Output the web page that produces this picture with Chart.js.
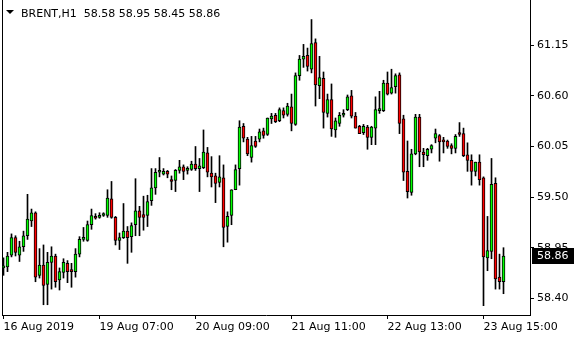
<!DOCTYPE html>
<html><head><meta charset="utf-8">
<script src="https://cdn.jsdelivr.net/npm/chart.js@4.4.1/dist/chart.umd.min.js"></script>
<style>html,body{margin:0;padding:0;background:#fff;}canvas{display:block;}</style>
</head><body>
<canvas id="c" width="580" height="340"></canvas>
<script>
const symbol = "BRENT,H1";
const opens = [
58.73,58.74,58.87,59.06,58.87,58.96,59.08,59.24,59.33,58.65,
58.76,58.55,58.79,58.86,58.60,58.68,58.78,58.70,58.69,58.88,
59.04,59.03,59.20,59.29,59.28,59.30,59.30,59.48,59.28,59.03,
59.06,59.13,59.07,59.20,59.35,59.31,59.30,59.46,59.60,59.77,
59.75,59.78,59.69,59.68,59.79,59.83,59.79,59.80,59.86,59.81,
59.82,59.98,59.76,59.73,59.66,59.71,59.18,59.30,59.58,59.81,
60.27,60.13,59.93,60.11,60.13,60.22,60.18,60.35,60.39,60.33,
60.44,60.40,60.48,60.29,60.82,61.00,61.04,60.89,61.18,60.71,
60.79,60.41,60.56,60.23,60.30,60.39,60.45,60.60,60.38,60.27,
60.20,60.26,60.15,60.25,60.44,60.44,60.74,60.63,60.70,60.83,
60.35,59.78,59.55,59.97,60.37,59.99,59.95,60.02,60.14,60.17,
60.12,60.11,60.06,60.03,60.20,60.19,59.96,59.90,59.78,59.88,
59.71,58.84,58.91,59.65,58.63,58.58];
const highs = [
58.84,58.90,59.10,59.08,59.02,59.13,59.53,59.37,59.34,58.94,
58.98,58.90,58.96,58.88,58.73,58.83,58.81,58.78,58.94,59.07,
59.17,59.24,59.37,59.32,59.33,59.33,59.58,59.67,59.29,59.11,
59.43,59.18,59.22,59.70,59.40,59.51,59.52,59.81,59.81,59.93,
59.81,59.79,59.73,59.80,59.90,59.85,59.83,59.89,60.05,59.92,
60.23,60.04,59.94,59.76,59.95,59.85,59.34,59.58,59.85,60.33,
60.30,60.15,60.16,60.16,60.24,60.25,60.36,60.41,60.41,60.47,
60.47,60.52,60.62,60.85,61.04,61.16,61.12,61.43,61.22,61.03,
60.86,60.62,60.73,60.36,60.42,60.45,60.61,60.66,60.42,60.28,
60.29,60.28,60.27,60.59,60.65,60.77,60.86,60.89,60.84,60.85,
60.39,60.11,60.02,60.40,60.40,60.03,60.03,60.07,60.24,60.18,
60.15,60.12,60.08,60.18,60.31,60.25,60.09,59.96,59.88,59.96,
59.72,59.29,59.92,59.71,58.88,58.95];
const lows = [
58.65,58.69,58.85,58.86,58.80,58.91,59.04,59.18,58.58,58.62,
58.33,58.33,58.50,58.52,58.49,58.62,58.57,58.52,58.63,58.85,
59.02,59.02,59.15,59.26,59.27,59.29,59.28,59.27,58.98,58.93,
59.05,58.78,58.90,59.08,59.08,59.14,59.18,59.41,59.53,59.72,
59.74,59.71,59.58,59.56,59.76,59.69,59.75,59.79,59.79,59.56,
59.81,59.72,59.61,59.44,59.61,58.96,59.01,59.20,59.58,59.63,
60.10,59.95,59.88,60.04,60.10,60.14,60.17,60.30,60.31,60.32,
60.36,60.38,60.22,60.28,60.77,60.91,60.87,60.85,60.49,60.57,
60.25,60.37,60.16,60.15,60.27,60.37,60.44,60.36,60.25,60.19,
60.18,60.02,60.07,60.07,60.41,60.43,60.61,60.62,60.63,60.19,
59.68,59.49,59.52,59.96,59.83,59.83,59.90,59.98,60.09,59.89,
59.98,60.03,59.97,59.98,60.16,59.94,59.78,59.63,59.73,59.63,
58.32,58.70,58.83,58.50,58.50,58.45];
const closes = [
58.75,58.86,59.06,58.90,58.96,59.08,59.26,59.33,58.63,58.76,
58.54,58.79,58.86,58.58,58.69,58.79,58.69,58.69,58.88,59.04,
59.06,59.20,59.30,59.27,59.30,59.31,59.49,59.28,59.03,59.06,
59.13,59.06,59.19,59.35,59.28,59.28,59.45,59.60,59.77,59.78,
59.78,59.75,59.67,59.79,59.83,59.78,59.80,59.86,59.81,59.84,
59.99,59.77,59.72,59.65,59.72,59.17,59.29,59.58,59.80,60.26,
60.14,59.97,60.06,60.05,60.21,60.17,60.36,60.38,60.32,60.45,
60.39,60.49,60.30,60.82,61.00,61.03,60.92,61.17,60.72,60.80,
60.42,60.56,60.24,60.33,60.39,60.40,60.59,60.38,60.25,60.19,
60.27,60.15,60.26,60.45,60.45,60.74,60.62,60.69,60.82,60.30,
59.77,59.56,59.97,60.37,59.99,59.96,60.02,60.06,60.19,60.10,
60.10,60.05,60.03,60.16,60.18,59.95,59.90,59.78,59.88,59.69,
58.85,58.92,59.64,58.61,58.58,58.86];
const xTickIndex = [0, 24, 48, 72, 96, 120];
const xTickLabels = ["16 Aug 2019","19 Aug 07:00","20 Aug 09:00","21 Aug 11:00","22 Aug 13:00","23 Aug 15:00"];
const yTickValues = [58.40, 58.95, 59.50, 60.05, 60.60, 61.15];

const FONT = '"DejaVu Sans", Tahoma, sans-serif';
const UP = '#00ff00', DOWN = '#ff0000';

const wickData = lows.map((l, i) => ({x: i, y: [l, highs[i]]}));
const bodyData = opens.map((o, i) => ({x: i, y: [Math.min(o, closes[i]), Math.max(o, closes[i])]}));
const bodyColors = opens.map((o, i) => closes[i] >= o ? UP : DOWN);

const headerPlugin = {
  id: 'header',
  afterDraw(chart) {
    const {ctx, chartArea} = chart;
    const n = opens.length - 1;
    const x0 = chartArea.left;
    ctx.save();
    ctx.fillStyle = '#000';
    ctx.beginPath();
    ctx.moveTo(x0 + 4, 10);
    ctx.lineTo(x0 + 12, 10);
    ctx.lineTo(x0 + 8, 14);
    ctx.closePath();
    ctx.fill();
    ctx.font = '11px ' + FONT;
    ctx.textBaseline = 'alphabetic';
    ctx.fillStyle = '#000';
    const txt = symbol + '  ' + [opens[n], highs[n], lows[n], closes[n]].map(v => v.toFixed(2)).join(' ');
    ctx.fillText(txt, x0 + 19, 17);
    ctx.restore();
  }
};
const lastPricePlugin = {
  id: 'lastPrice',
  afterDraw(chart) {
    const {ctx, chartArea, scales} = chart;
    const v = closes[closes.length - 1];
    const y = Math.round(scales.y.getPixelForValue(v));
    ctx.save();
    ctx.fillStyle = '#000';
    ctx.fillRect(chartArea.right + 2, y - 8, 42, 16);
    ctx.fillStyle = '#fff';
    ctx.font = '11px ' + FONT;
    ctx.textBaseline = 'middle';
    ctx.fillText(v.toFixed(2), chartArea.right + 7, y + 0.5);
    ctx.restore();
  }
};

new Chart(document.getElementById('c'), {
  type: 'bar',
  data: {
    datasets: [
      {
        label: 'body', data: bodyData, order: 0, grouped: false, xAxisID: 'x', yAxisID: 'y',
        backgroundColor: bodyColors, borderColor: '#000', borderWidth: 1,
        borderSkipped: false, barThickness: 3, minBarLength: 2
      },
      {
        label: 'wick', data: wickData, order: 1, grouped: false, xAxisID: 'x', yAxisID: 'y',
        backgroundColor: '#000', borderWidth: 0, barThickness: 1
      }
    ]
  },
  options: {
    responsive: false,
    animation: false,
    events: [],
    layout: {padding: {left: 2, top: 0, right: 0, bottom: 0}},
    plugins: {legend: {display: false}, tooltip: {enabled: false}, title: {display: false}},
    scales: {
      x: {
        type: 'linear', min: -0.375, max: 131.625, offset: false,
        grid: {display: true, offset: false, drawOnChartArea: false, drawTicks: true, tickLength: 4, color: '#000', lineWidth: 1},
        border: {display: true, color: '#000', width: 1},
        afterBuildTicks(scale) { scale.ticks = xTickIndex.map(v => ({value: v})); },
        afterFit(scale) { scale.height = 25; scale.paddingLeft = 0; scale.paddingRight = 0; },
        ticks: {
          autoSkip: false, maxRotation: 0, minRotation: 0, align: 'start', padding: 2,
          color: '#000', font: {family: FONT, size: 11},
          callback: (v) => { const k = xTickIndex.indexOf(v); return k >= 0 ? xTickLabels[k] : ''; }
        }
      },
      y: {
        type: 'linear', position: 'right', min: 58.2185, max: 61.6424,
        grid: {display: true, drawOnChartArea: false, drawTicks: true, tickLength: 4, color: '#000', lineWidth: 1},
        border: {display: true, color: '#000', width: 1},
        afterBuildTicks(scale) { scale.ticks = yTickValues.map(v => ({value: v})); },
        afterFit(scale) { scale.width = 50; scale.paddingTop = 0; scale.paddingBottom = 0; },
        ticks: {
          padding: 3, color: '#000', font: {family: FONT, size: 11},
          callback: (v) => Number(v).toFixed(2)
        }
      },
      yL: {
        type: 'linear', position: 'left', display: true, min: 0, max: 1,
        grid: {display: false}, ticks: {display: false},
        border: {display: true, color: '#000', width: 1},
        afterFit(scale) { scale.width = 0; scale.paddingTop = 0; scale.paddingBottom = 0; }
      }
    }
  },
  plugins: [headerPlugin, lastPricePlugin]
});
</script>
</body></html>
